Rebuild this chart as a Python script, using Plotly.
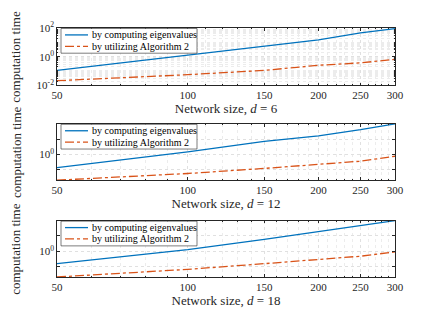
import numpy as np
import plotly.graph_objects as go
from plotly.subplots import make_subplots

# network sizes
sizes = [50, 100, 150, 200, 250, 300]

# computation time, d = 6
eig_d6 = [0.11, 1.3, 5.8, 15, 46, 90]
alg_d6 = [0.021, 0.055, 0.11, 0.25, 0.37, 0.65]
# d = 12
eig_d12 = [0.54, 1.13, 1.85, 2.4, 3.2, 4.2]
alg_d12 = [0.30, 0.41, 0.52, 0.63, 0.73, 0.92]
# d = 18
eig_d18 = [0.58, 1.09, 1.71, 2.4, 3.1, 3.95]
alg_d18 = [0.32, 0.45, 0.58, 0.70, 0.81, 0.98]

degrees = [6, 12, 18]
xticks = [50, 100, 150, 200, 250, 300]

BLUE = "#0072BD"
RED = "#D95319"
FONT = "Liberation Serif, Times New Roman, serif"

# the page body adds an 8px margin, so the figure is drawn 8px smaller/shifted
OFF = 8
W, H = 436 - 2 * OFF, 327 - 2 * OFF
ML, MT = 57 - OFF, 25 - OFF
MR = W - (395 - OFF)
MB = H - (277 - OFF)
panels_px = [(25 - OFF, 83 - OFF), (122 - OFF, 179 - OFF), (220 - OFF, 277 - OFF)]

fig = make_subplots(rows=3, cols=1)
data = [(eig_d6, alg_d6), (eig_d12, alg_d12), (eig_d18, alg_d18)]

ph = H - MT - MB
pw = W - ML - MR
for i, ((eig, alg), d) in enumerate(zip(data, degrees)):
    r = i + 1
    top, bot = panels_px[i]
    dom = [(H - MB - bot) / ph, (H - MB - top) / ph]
    fig.add_trace(go.Scatter(x=sizes, y=eig, mode="lines", name="by computing eigenvalues",
                             line=dict(color=BLUE, width=1.3), showlegend=False), row=r, col=1)
    fig.add_trace(go.Scatter(x=sizes, y=alg, mode="lines", name="by utilizing Algorithm 2",
                             line=dict(color=RED, width=1.3, dash="dashdot"), showlegend=False), row=r, col=1)

    xminor = [v for v in range(50, 301, 10) if v not in xticks]
    fig.update_xaxes(type="log", range=[np.log10(50), np.log10(300)],
                     tickvals=xticks, ticktext=[str(v) for v in xticks],
                     ticks="inside", ticklen=3, tickcolor="#262626", mirror="allticks", showline=True,
                     linecolor="#262626", linewidth=0.6, showgrid=True, gridcolor="#e0e0e0",
                     griddash="dot", gridwidth=0.5, zeroline=False,
                     minor=dict(tickvals=xminor, ticks="inside", ticklen=1.5, tickcolor="#262626",
                                showgrid=True, gridcolor="#ececec", griddash="dot", gridwidth=0.5),
                     tickfont=dict(size=11, family=FONT, color="#262626"),
                     title=dict(text=f"Network size, <i>d</i> = {d}", standoff=0,
                                font=dict(size=13, family=FONT, color="#262626")),
                     row=r, col=1)
    if i == 0:
        yr = [-2, 2]
        yt = [0.01, 1, 100]
        ytt = ["10<sup>-2</sup>", "10<sup>0</sup>", "10<sup>2</sup>"]
        yminor = [m * 10 ** k for k in range(-2, 2) for m in range(1, 10) if not (m == 1 and k % 2 == 0)]
    else:
        yr = [np.log10(min(alg)), np.log10(max(eig))]
        yt = [0.5, 1, 2]
        ytt = ["", "10<sup>0</sup>", ""]
        yminor = []
    fig.update_yaxes(type="log", range=yr, tickvals=yt, ticktext=ytt, domain=dom,
                     ticks="inside", ticklen=3, tickcolor="#262626", mirror="allticks", showline=True,
                     linecolor="#262626", linewidth=0.6, showgrid=True, gridcolor="#e0e0e0",
                     griddash="dot", gridwidth=0.5, zeroline=False,
                     minor=dict(tickvals=yminor, ticks="inside", ticklen=1.5, tickcolor="#262626",
                                showgrid=True, gridcolor="#ececec", griddash="dot", gridwidth=0.5),
                     tickfont=dict(size=11, family=FONT, color="#262626"),
                     row=r, col=1)

    # y title
    fig.add_annotation(text="computation time", textangle=-90, xref="paper", yref="paper",
                       x=(16 - OFF - ML) / pw, y=(dom[0] + dom[1]) / 2, xanchor="center",
                       yanchor="middle", showarrow=False,
                       font=dict(size=13, family=FONT, color="#262626"))

    # legend box (drawn in axis-domain coordinates)
    xa = "x domain" if r == 1 else f"x{r} domain"
    ya = "y domain" if r == 1 else f"y{r} domain"
    hpx = bot - top

    def fx(px):
        return (px - OFF - ML) / pw

    def fy(px):
        return 1 - (px - top) / hpx

    fig.add_shape(type="rect", xref=xa, yref=ya, x0=fx(61), x1=fx(197), y0=fy(top + 25.5), y1=fy(top + 0.5),
                  line=dict(color="#262626", width=0.6), fillcolor="white", layer="above")
    for j, (name, col, dash) in enumerate([("by computing eigenvalues", BLUE, "solid"),
                                           ("by utilizing Algorithm 2", RED, "dashdot")]):
        yy = top + 7 + j * 11.5
        fig.add_shape(type="line", xref=xa, yref=ya, x0=fx(65), x1=fx(88), y0=fy(yy), y1=fy(yy),
                      line=dict(color=col, width=1.3, dash=dash), layer="above")
        fig.add_annotation(text=name, xref=xa, yref=ya, x=fx(90), y=fy(yy), xanchor="left",
                           yanchor="middle", showarrow=False,
                           font=dict(size=10, family=FONT, color="black"))

fig.update_layout(width=W, height=H, margin=dict(l=ML, r=MR, t=MT, b=MB),
                  plot_bgcolor="white", paper_bgcolor="white",
                  font=dict(family=FONT, color="#262626"))
fig.write_html("out.html")
